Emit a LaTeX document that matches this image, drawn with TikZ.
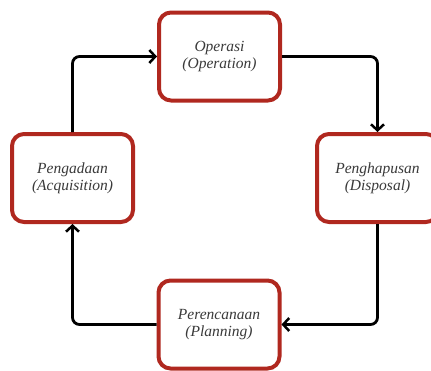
\documentclass[tikz,border=0pt]{standalone}
\usepackage{fontspec}
\setmainfont{Liberation Serif}
\usetikzlibrary{arrows.meta,positioning}
\definecolor{boxred}{HTML}{B0281F}
\definecolor{txtgray}{HTML}{3A3A3A}
\tikzset{
  phase/.style={draw=boxred, line width=4pt, fill=white, rounded corners=12pt,
    minimum width=121pt, minimum height=88pt, align=center,
    font=\itshape\fontsize{15.5}{17}\selectfont, text=txtgray, inner sep=0pt},
  flow/.style={draw=black, line width=2.8pt, rounded corners=7pt,
    -{Straight Barb[length=6pt,width=13pt,line width=2.5pt]}}
}
\begin{document}
\begin{tikzpicture}[x=1pt,y=-1pt]
\useasboundingbox (0,0) rectangle (431,370);
\node[phase] (op) at (219.5,56.5) {Operasi\\(Operation)};
\node[phase] (acq) at (72.5,178) {Pengadaan\\(Acquisition)};
\node[phase] (dis) at (377.5,178) {Penghapusan\\(Disposal)};
\node[phase] (plan) at (219,324.5) {Perencanaan\\(Planning)};
\draw[flow] (acq.north) |- (op.west);
\draw[flow] (op.east) -| (dis.north);
\draw[flow] (dis.south) |- (plan.east);
\draw[flow] (plan.west) -| (acq.south);
\end{tikzpicture}
\end{document}
